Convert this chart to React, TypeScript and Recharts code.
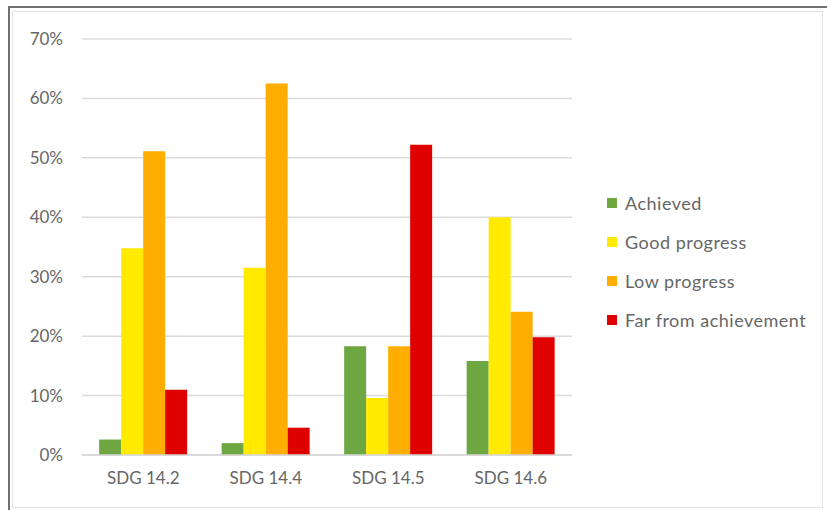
import React from 'react'
import { BarChart, Bar, XAxis, YAxis, CartesianGrid, Legend } from 'recharts'

const categories = ['SDG 14.2', 'SDG 14.4', 'SDG 14.5', 'SDG 14.6']
const achieved = [2.6, 2.0, 18.3, 15.8]
const goodProgress = [34.8, 31.5, 9.6, 40.0]
const lowProgress = [51.1, 62.5, 18.3, 24.1]
const farFromAchievement = [11.0, 4.6, 52.2, 19.8]
const yTicks = [0, 10, 20, 30, 40, 50, 60, 70]

const SERIES = [
  { key: 'achieved', name: 'Achieved', color: '#6ea641' },
  { key: 'good', name: 'Good progress', color: '#ffea00' },
  { key: 'low', name: 'Low progress', color: '#ffad00' },
  { key: 'far', name: 'Far from achievement', color: '#df0000' },
]

const data = categories.map((name, i) => ({
  name,
  achieved: achieved[i],
  good: goodProgress[i],
  low: lowProgress[i],
  far: farFromAchievement[i],
}))

const FONT = 'Lato, "Open Sans", sans-serif'
const TEXT = '#666666'

function StatusLegend() {
  return (
    <div style={{ fontFamily: FONT, fontSize: 18, letterSpacing: 0.5, color: TEXT }}>
      {SERIES.map((s) => (
        <div key={s.key} style={{ display: 'flex', alignItems: 'center', height: 39 }}>
          <span style={{ width: 10, height: 10, background: s.color, marginRight: 8 }} />
          <span>{s.name}</span>
        </div>
      ))}
    </div>
  )
}

export default function App() {
  return (
    <div style={{ position: 'absolute', left: 0, top: 0, width: 827, height: 510, background: '#fff' }}>
      <div
        style={{
          position: 'absolute',
          left: 8,
          top: 6,
          right: 0,
          bottom: 0,
          borderTop: '2px solid #707070',
          borderLeft: '2px solid #707070',
        }}
      />
      <div
        style={{
          position: 'absolute',
          left: 12,
          top: 11,
          width: 809,
          height: 495,
          border: '1px solid #e2e2e2',
        }}
      />
      <div style={{ position: 'absolute', left: 0, top: 0 }}>
        <BarChart
          width={827}
          height={510}
          data={data}
          margin={{ top: 39, right: 255, bottom: 0, left: 0 }}
          barCategoryGap="14%"
          barGap={0}
        >
          <CartesianGrid vertical={false} stroke="#dcdcdc" strokeWidth={1.5} />
          <XAxis
            dataKey="name"
            height={55}
            axisLine={{ stroke: '#d6d6d6', strokeWidth: 1.5 }}
            tickLine={false}
            tickMargin={11}
            tick={{ fill: TEXT, fontSize: 17, fontFamily: FONT }}
          />
          <YAxis
            width={82}
            domain={[0, 70]}
            ticks={yTicks}
            tickFormatter={(v: number) => `${v}%`}
            axisLine={false}
            tickLine={false}
            tickMargin={13}
            tick={{ fill: TEXT, fontSize: 17, fontFamily: FONT }}
          />
          <Legend
            layout="vertical"
            align="center"
            verticalAlign="middle"
            content={<StatusLegend />}
            wrapperStyle={{ left: 607, top: 183, width: 220 }}
          />
          {SERIES.map((s) => (
            <Bar key={s.key} dataKey={s.key} name={s.name} fill={s.color} isAnimationActive={false} />
          ))}
        </BarChart>
      </div>
    </div>
  )
}
